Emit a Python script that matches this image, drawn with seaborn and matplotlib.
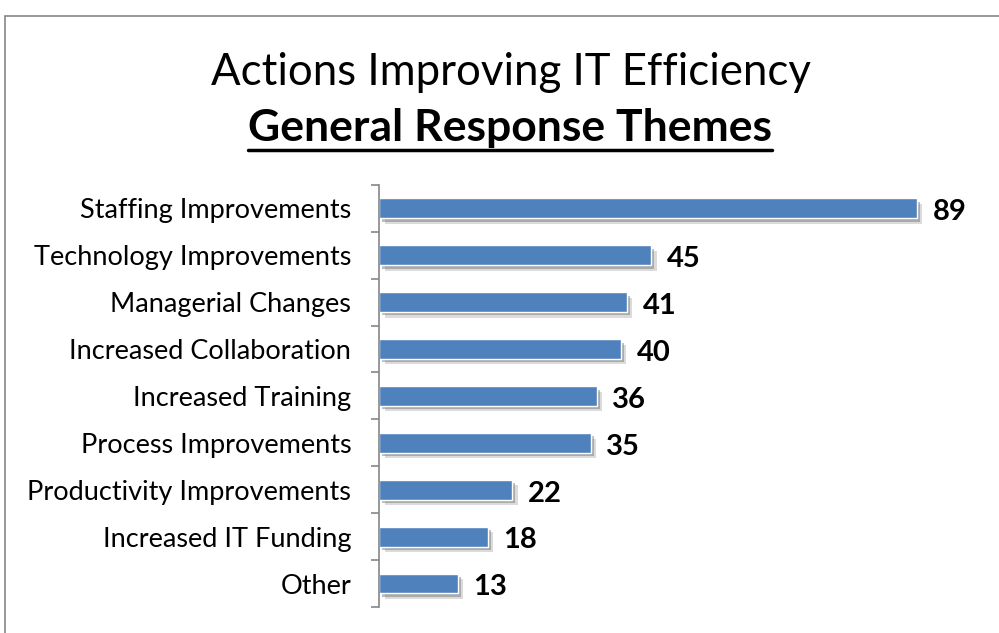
import matplotlib
matplotlib.use("Agg")
import matplotlib.pyplot as plt
import matplotlib.patheffects as pe
from matplotlib.patches import Rectangle
from matplotlib.lines import Line2D
import seaborn as sns
import pandas as pd

# ── Data ─────────────────────────────────────────────────────────────────────
categories = [
    "Staffing Improvements",
    "Technology Improvements",
    "Managerial Changes",
    "Increased Collaboration",
    "Increased Training",
    "Process Improvements",
    "Productivity Improvements",
    "Increased IT Funding",
    "Other",
]
counts = [89, 45, 41, 40, 36, 35, 22, 18, 13]

title_line1 = "Actions Improving IT Efficiency"
title_line2 = "General Response Themes"

BAR_COLOR = "#4F81BD"

sns.set_theme(style="white")
plt.rcParams["font.family"] = ["Lato", "DejaVu Sans"]

df = pd.DataFrame({"category": categories, "count": counts})

fig = plt.figure(figsize=(9.99, 6.33), dpi=100)
ax = fig.add_axes([0.3794, 0.041, 0.605, 0.667])

sns.barplot(data=df, x="count", y="category", color=BAR_COLOR, saturation=1,
            width=0.42, ax=ax)

# drop shadow on the bars
for bar in ax.patches:
    bar.set_path_effects([
        pe.SimplePatchShadow(offset=(4, -4), shadow_rgbFace="#9a9a9a", alpha=0.35),
        pe.SimplePatchShadow(offset=(2.5, -2.5), shadow_rgbFace="#7a7a7a", alpha=0.5),
        pe.Normal(),
    ])

# value labels
for bar, val in zip(ax.patches, counts):
    ax.text(bar.get_width() + 2.6, bar.get_y() + bar.get_height() / 2 + 0.08,
            f"{val}", va="center", ha="left", fontsize=21, fontweight="bold",
            color="black")

ax.set_xlim(0, 100)
ax.set_ylim(len(categories) - 0.5, -0.5)
ax.set_xlabel("")
ax.set_ylabel("")
ax.set_xticks([])
for side in ["top", "right", "bottom"]:
    ax.spines[side].set_visible(False)
ax.spines["left"].set_color("#868686")
ax.spines["left"].set_linewidth(1.2)

# tick marks between categories on the left axis
ax.set_yticks([i - 0.5 for i in range(len(categories) + 1)], minor=True)
ax.tick_params(axis="y", which="minor", left=True, length=6, width=1.2,
               color="#868686", direction="out")
ax.tick_params(axis="y", which="major", left=False, length=0, pad=20,
               labelsize=19.5, labelcolor="black")

# titles
fig.text(0.511, 0.886, title_line1, ha="center", va="center", fontsize=31.5,
         color="black")
t2 = fig.text(0.511, 0.797, title_line2, ha="center", va="center", fontsize=32,
              fontweight="bold", color="black")

# underline the second title line
fig.canvas.draw()
bb = t2.get_window_extent().transformed(fig.transFigure.inverted())
fig.add_artist(Line2D([bb.x0, bb.x1], [bb.y0 - 0.002, bb.y0 - 0.002],
                      transform=fig.transFigure, color="black", linewidth=2.5))

# chart border
fig.add_artist(Rectangle((0.005, -0.05), 1.2, 1.025, transform=fig.transFigure,
                         fill=False, edgecolor="#868686", linewidth=1.2))

fig.savefig("out.png", dpi=100)
